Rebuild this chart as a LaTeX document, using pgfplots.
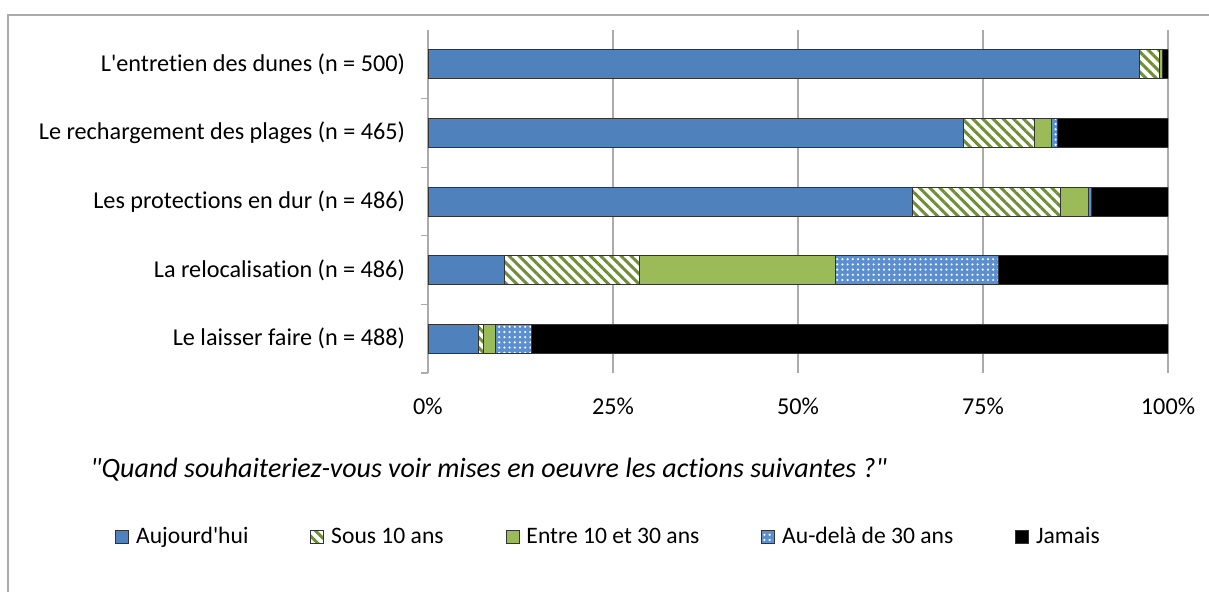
\documentclass[border=0pt]{standalone}
\usepackage{pgfplots}
\pgfplotsset{compat=1.18}
\usepackage{fontspec}
\setmainfont{Carlito}[Ligatures={TeXOff,CommonOff}]
\usetikzlibrary{patterns.meta}
\definecolor{cblue}{HTML}{4F81BD}
\definecolor{cgreen}{HTML}{9BBB59}
\definecolor{chatch}{HTML}{6E8F35}
\definecolor{cdot}{HTML}{5B8FD0}
\definecolor{cgrid}{HTML}{ABABAB}
\begin{document}
\begin{tikzpicture}
\useasboundingbox (0,0) rectangle (604.5pt,-296pt);
\draw[cgrid, line width=0.6pt] (4pt,-400pt) -- (4pt,-7.5pt) -- (700pt,-7.5pt);
\begin{axis}[
  at={(214pt,-186.5pt)}, anchor=south west,
  scale only axis, width=370pt, height=171.5pt,
  xbar stacked, bar width=0.42,
  xmin=0, xmax=100, ymin=-0.5, ymax=4.5,
  xtick={0,25,50,75,100},
  xticklabels={0\%,25\%,50\%,75\%,100\%},
  xmajorgrids, grid style={cgrid, line width=0.6pt},
  ytick={0,1,2,3,4},
  yticklabels={Le laisser faire (n = 488),La relocalisation (n = 486),Les protections en dur (n = 486),Le rechargement des plages (n = 465),L'entretien des dunes (n = 500)},
  extra y ticks={-0.5,0.5,1.5,2.5,3.5},
  extra y tick labels={},
  extra y tick style={major tick length=3.5pt, tick align=outside, tick style={cgrid, line width=0.6pt}, ymajorgrids=false},
  major tick length=0pt,
  axis y line*=left, axis x line*=bottom,
  x axis line style={draw=none},
  y axis line style={cgrid, line width=0.6pt, -},
  ytick pos=left,
  tick label style={font=\fontsize{12.1pt}{14pt}\selectfont},
  yticklabel style={xshift=-8pt},
  xticklabel style={yshift=-9pt},
  legend columns=5,
  legend style={at={(-0.423,-0.478)}, anchor=west, draw=none, inner sep=0pt,
    nodes={inner sep=0pt},
    font=\fontsize{11.8pt}{14pt}\selectfont,
    /tikz/every odd column/.append style={column sep=3.5pt},
    /tikz/every even column/.append style={column sep=31pt}},
  legend image code/.code={\draw[#1, line width=0.4pt] (0pt,-3.25pt) rectangle (6.5pt,3.25pt);},
  every axis plot/.append style={draw=black!80, line width=0.4pt},
]
\addplot[fill=cblue] coordinates {(6.8,0) (10.3,1) (65.4,2) (72.4,3) (96.2,4)};
\addplot[preaction={fill=white}, pattern={Lines[angle=-45, distance=3.6pt, line width=1.5pt]}, pattern color=chatch] coordinates {(0.7,0) (18.3,1) (20.1,2) (9.5,3) (2.6,4)};
\addplot[fill=cgreen] coordinates {(1.6,0) (26.5,1) (3.7,2) (2.4,3) (0.4,4)};
\addplot[preaction={fill=cdot}, pattern={Dots[distance=2.6pt, radius=0.6pt]}, pattern color=white] coordinates {(4.9,0) (22.0,1) (0.4,2) (0.7,3) (0.0,4)};
\addplot[fill=black] coordinates {(86.0,0) (22.9,1) (10.4,2) (15.0,3) (0.8,4)};
\legend{Aujourd'hui,Sous 10 ans,Entre 10 et 30 ans,Au-delà de 30 ans,Jamais}
\end{axis}
\node[anchor=west, inner sep=0pt, font=\fontsize{14pt}{16pt}\selectfont\itshape] at (45pt,-235pt) {"Quand souhaiteriez-vous voir mises en oeuvre les actions suivantes ?"};
\end{tikzpicture}
\end{document}
